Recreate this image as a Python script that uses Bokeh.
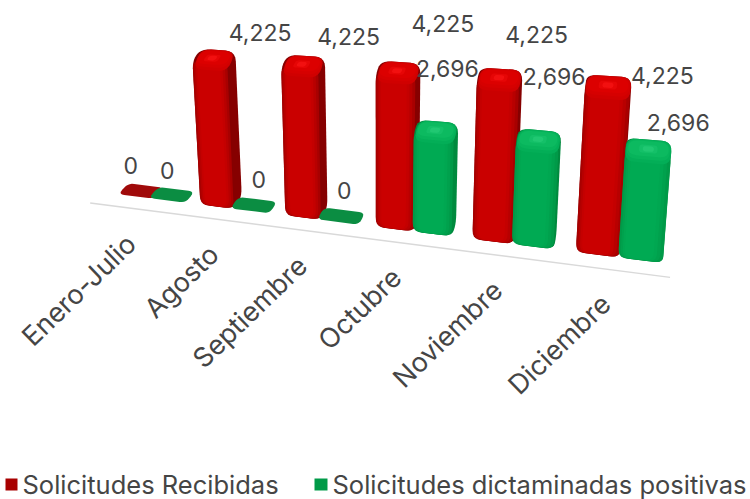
from bokeh.plotting import figure
from bokeh.embed import file_html
from bokeh.resources import INLINE
from bokeh.core.properties import value

categories = ["Enero-Julio", "Agosto", "Septiembre", "Octubre", "Noviembre", "Diciembre"]
recibidas = [0, 4225, 4225, 4225, 4225, 4225]
positivas = [0, 0, 0, 2696, 2696, 2696]
series_names = ["Solicitudes Recibidas", "Solicitudes dictaminadas positivas"]

# label offsets from the back-centre of each bar's top (pixels)
off_r = [(-15, -20), (42, -18), (42, -19), (42, -39), (35, -34), (53, -1)]
off_g = [(-9, -19), (1, -20), (0, -20), (9, -53), (14, -54), (29, -17)]

RED = dict(hull="#860000", levels=["#a80000", "#b80000", "#c40000", "#ca0000"],
           caps=["#d00000", "#d60000", "#dc0000"], spots=["#e60606", "#f21010"], flat="#a00a0a")
GREEN = dict(hull="#008a3e", levels=["#009a48", "#00a14d", "#00a751", "#00aa53"],
             caps=["#03ae57", "#07b45b", "#0cba60"], spots=["#14c068", "#20c872"], flat="#0b8d42")

# perspective camera
C, A, B, DY, E = -0.02985, 73.9, 120.0, 4.0, 194.0
H, DD = 140.0, 11.0
LEAN, LX, VPX, TS = 0.045, 376.0, 715.0, 0.0168
VMAX = max(recibidas)
BAR_W, GAP = 0.40, 0.39


def P(u, v, z):
    D = 1 + C * u
    x0, y0 = (A * u + B) / D, (DY * u + E) / D
    t = v / VMAX
    return (x0 + (x0 - LX) * LEAN * t + (VPX - x0) * TS * z,
            y0 - (H * t + DD * z) / D)


def rounded(pts, r, n=5):
    out = []
    m = len(pts)
    for i in range(m):
        p, q, s = pts[i - 1], pts[i], pts[(i + 1) % m]
        d1 = ((p[0] - q[0]) ** 2 + (p[1] - q[1]) ** 2) ** .5 or 1
        d2 = ((s[0] - q[0]) ** 2 + (s[1] - q[1]) ** 2) ** .5 or 1
        r1, r2 = min(r, d1 * .45) / d1, min(r, d2 * .45) / d2
        a = (q[0] + (p[0] - q[0]) * r1, q[1] + (p[1] - q[1]) * r1)
        b = (q[0] + (s[0] - q[0]) * r2, q[1] + (s[1] - q[1]) * r2)
        for k in range(n + 1):
            t = k / n
            out.append(((1 - t) ** 2 * a[0] + 2 * t * (1 - t) * q[0] + t * t * b[0],
                        (1 - t) ** 2 * a[1] + 2 * t * (1 - t) * q[1] + t * t * b[1]))
    return out


p = figure(width=750, height=499, x_range=(0, 750), y_range=(499, 0),
           toolbar_location=None, output_backend="svg", min_border=0,
           outline_line_color=None, background_fill_color="white")
p.xaxis.visible = False
p.yaxis.visible = False
p.grid.visible = False

xs, ys, cols = [], [], []


def add(pts, col):
    xs.append([q[0] for q in pts])
    ys.append([q[1] for q in pts])
    cols.append(col)


def bar(u0, v, pal):
    u1 = u0 + BAR_W
    if v == 0:
        add(rounded([P(u0 - .03, 0, 0), P(u1 + .03, 0, 0), P(u1 + .03, 0, 1), P(u0 - .03, 0, 1)], 6), pal["flat"])
        return
    add(rounded([P(u0, 0, 0), P(u1, 0, 0), P(u1, 0, 1), P(u1, v, 1), P(u0, v, 1), P(u0, v, 0)], 10), pal["hull"])
    for k, col in enumerate(pal["levels"]):
        e = k * 0.018
        add(rounded([P(u0 + e, 0, 0.02 * k), P(u1 - e * 1.6, 0, 0.02 * k),
                     P(u1 - e * 1.6, v, 0), P(u0 + e, v, 0)], 8), col)
    for k, col in enumerate(pal["caps"]):
        e = k * 0.012
        low = v - VMAX * 0.06 * (1 - k / 3)
        add(rounded([P(u0 + e, low, 0), P(u1 - e, low, 0),
                     P(u1 - e, v, 1 - 0.06 * k), P(u0 + e, v, 1 - 0.06 * k)], 10), col)
    um = u0 + BAR_W * .5
    for k, col in enumerate(pal["spots"]):
        w = BAR_W * (.2 - .08 * k)
        z0, z1 = .1 * k, .6 - .1 * k
        add(rounded([P(um - w, v, z0), P(um + w, v, z0), P(um + w, v, z1), P(um - w, v, z1)], 3), col)


lab_x, lab_y, lab_t = [], [], []
axis_start, axis_end = P(-0.26, 0, -1.0), P(5.86, 0, -1.0)
p.line([axis_start[0], axis_end[0]], [axis_start[1], axis_end[1]], line_color="#d9d9d9", line_width=1.5)

for i in range(len(categories)):
    for u, v, pal, off in ((i, recibidas[i], RED, off_r[i]),
                           (i + GAP, positivas[i], GREEN, off_g[i])):
        bar(u, v, pal)
        top = P(u + BAR_W / 2, v, 1)
        lab_x.append(top[0] + off[0])
        lab_y.append(top[1] + off[1])
        lab_t.append(f"{v:,}")

p.patches(xs, ys, fill_color=cols, line_color=None)

FONT = value("Inter")
p.text(lab_x, lab_y, text=lab_t, text_font=FONT, text_font_size="23px",
       text_color="#454545", text_align="center", text_baseline="middle")

cx, cy = [], []
for i in range(len(categories)):
    q = P(i * 1.03 + 0.1, 0, 0)
    cx.append(q[0] + 3)
    cy.append(q[1] + 44)
p.text(cx, cy, text=categories, text_font=FONT, text_font_size="27px", angle=0.77,
       text_color="#454545", text_align="right", text_baseline="middle")

p.quad(left=[5], right=[17], top=[478], bottom=[490], fill_color="#a80000", line_color=None)
p.quad(left=[314], right=[327], top=[478], bottom=[490], fill_color="#009a48", line_color=None)
p.text([22, 332], [484, 484], text=series_names, text_font=FONT, text_font_size="25.5px",
       text_color="#454545", text_align="left", text_baseline="middle")

open("out.html", "w").write(file_html(p, INLINE))
